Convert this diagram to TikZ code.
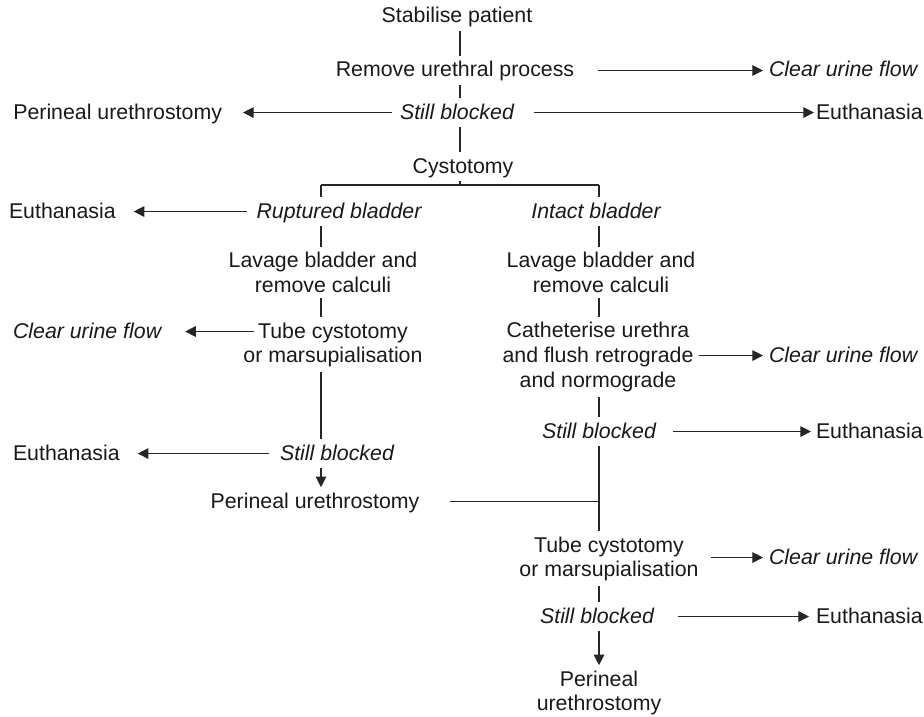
\documentclass[tikz,border=0pt]{standalone}
\usepackage{fontspec}
\setmainfont{Liberation Sans}
\usetikzlibrary{arrows.meta,calc}
\begin{document}
\begin{tikzpicture}[x=0.75pt,y=-0.75pt,
  every node/.style={font=\fontsize{16pt}{18.4pt}\selectfont, text=black!90, inner sep=0pt, outer xsep=0pt},
  t/.style={text height=11.6pt, text depth=1.9pt, outer ysep=4pt, anchor=base},
  ti/.style={t, font=\fontsize{16pt}{18.4pt}\selectfont\itshape},
  m/.style={align=center, outer ysep=4pt},
  ln/.style={line width=0.9pt, black!85},
  arr/.style={ln, -{Triangle[length=8pt,width=8pt]}}]
\useasboundingbox (0,0) rectangle (924,717);
% nodes (single-line nodes placed at their baselines)
\node[t] (sp) at (457,23) {Stabilise patient};
\node[t] (rup) at (455,77) {Remove urethral process};
\node[ti, anchor=base west] (cuf1) at (769,77) {Clear urine flow};
\node[ti] (sb1) at (457,119) {Still blocked};
\node[t, anchor=base east] (pu1) at (222,119) {Perineal urethrostomy};
\node[t, anchor=base west] (eu1) at (816,119) {Euthanasia};
\node[t] (cys) at (463,173) {Cystotomy};
\coordinate (bl) at (321,185);
\coordinate (br) at (599,185);
\coordinate (stem) at (460,185);
\coordinate (c1) at (460,0);
\node[ti] (rb) at (339,218) {Ruptured bladder};
\node[ti] (ib) at (596,218) {Intact bladder};
\node[t, anchor=base west] (eu2) at (9,218) {Euthanasia};
\node[m] (lav1) at (323,272.5) {Lavage bladder and\\remove calculi};
\node[m] (lav2) at (601,272.5) {Lavage bladder and\\remove calculi};
\node[m] (tc1) at (333,344.75) {Tube cystotomy\\or marsupialisation};
\node[ti, anchor=base west] (cuf2) at (13,338) {Clear urine flow};
\node[m] (cath) at (598,357) {Catheterise urethra\\and flush retrograde\\and normograde};
\node[ti, anchor=base west] (cuf3) at (769,362) {Clear urine flow};
\node[ti] (sb2) at (599,438) {Still blocked};
\node[t, anchor=base west] (eu3) at (816,438) {Euthanasia};
\node[ti] (sb3) at (337,460) {Still blocked};
\node[t, anchor=base west] (eu4) at (13,460) {Euthanasia};
\node[t] (pu2) at (315,508) {Perineal urethrostomy};
\node[m] (tc2) at (609,558.75) {Tube cystotomy\\or marsupialisation};
\node[ti, anchor=base west] (cuf4) at (769,564) {Clear urine flow};
\node[ti] (sb4) at (597,623) {Still blocked};
\node[t, anchor=base west] (eu5) at (816,623) {Euthanasia};
\node[m] (pu3) at (599,692.75) {Perineal\\urethrostomy};
% vertical trunk
\draw[ln] (sp.south -| c1) -- (rup.north -| c1);
\draw[ln] (rup.south -| c1) -- (sb1.north -| c1);
\draw[ln] (sb1.south -| c1) -- (cys.north -| c1);
\draw[ln] (cys.south -| stem) -- (stem);
\draw[ln] (bl) -- (br);
\draw[ln] (bl) -- (rb.north -| bl);
\draw[ln] (br) -- (ib.north -| br);
% left column
\draw[ln] (rb.south -| bl) -- (lav1.north -| bl);
\draw[ln] (lav1.south -| bl) -- (tc1.north -| bl);
\draw[ln] (tc1.south -| bl) -- (sb3.north -| bl);
\draw[arr] (sb3.south -| bl) -- (pu2.north -| bl);
% right column
\draw[ln] (ib.south -| br) -- (lav2.north -| br);
\draw[ln] (lav2.south -| br) -- (cath.north -| br);
\draw[ln] (cath.south -| br) -- (sb2.north -| br);
\draw[ln] (sb2.south -| br) -- (tc2.north -| br);
\draw[ln] (tc2.south -| br) -- (sb4.north -| br);
\draw[arr] (sb4.south -| br) -- (pu3.north -| br);
\draw[ln] ($(pu2.east)+(31,0)$) -- (pu2.east -| br);
% horizontal arrows
\draw[arr] ($(rup.east)+(24,0)$) -- ($(cuf1.west)+(-6,0)$);
\draw[arr] ($(sb1.west)+(-8,0)$) -- ($(pu1.east)+(21,0)$);
\draw[arr] ($(sb1.east)+(20,0)$) -- ($(eu1.west)+(-2,0)$);
\draw[arr] ($(rb.west)+(-10,0)$) -- ($(eu2.east)+(18,0)$);
\draw[arr] ($(tc1.west |- cuf2.east)+(11,0)$) -- ($(cuf2.east)+(24,0)$);
\draw[arr] ($(cath.east |- cuf3.west)+(6,0)$) -- ($(cuf3.west)+(-6,0)$);
\draw[arr] ($(sb2.east)+(17,0)$) -- ($(eu3.west)+(-5,0)$);
\draw[arr] ($(sb3.west)+(-11,0)$) -- ($(eu4.east)+(18,0)$);
\draw[arr] ($(tc2.east |- cuf4.west)+(12,0)$) -- ($(cuf4.west)+(-6,0)$);
\draw[arr] ($(sb4.east)+(24,0)$) -- ($(eu5.west)+(-7,0)$);
\end{tikzpicture}
\end{document}
